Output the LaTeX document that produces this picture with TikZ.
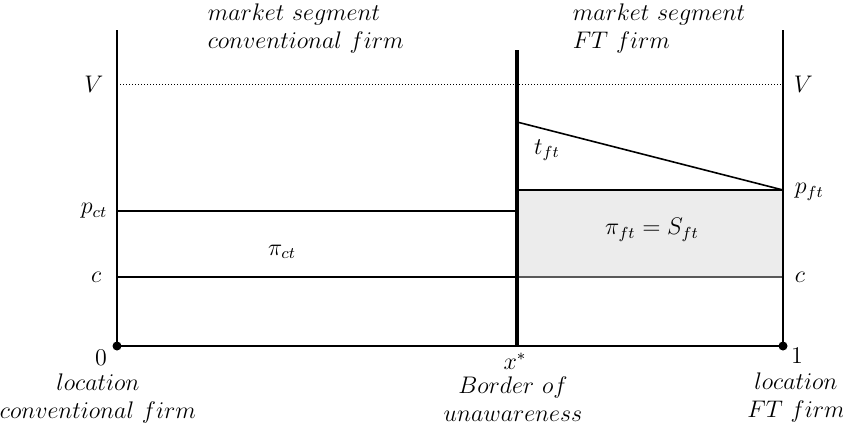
\documentclass[tikz,border=0pt]{standalone}
\usetikzlibrary{positioning}
\usepackage{amsmath}
\begin{document}
\begin{tikzpicture}[x=0.5pt,y=-0.5pt,thick,
        axis/.style={line width=1.1pt},
        level/.style={line width=0.8pt},
        lbl/.style={font=\large,inner sep=1pt}]
        \useasboundingbox (0,0) rectangle (843,429);
        % corner points
        \coordinate (o) at (117,346);
        \coordinate (ot) at (117,30);
        \coordinate (x) at (517,346);
        \coordinate (xt) at (517,50);
        \coordinate (e) at (783,346);
        \coordinate (et) at (783,30);
        \coordinate (vl) at (117,84);
        \coordinate (vr) at (783,84);
        \coordinate (pl) at (117,211);
        \coordinate (pm) at (517,211);
        \coordinate (cl) at (117,277);
        \coordinate (cm) at (517,277);
        \coordinate (cr) at (783,277);
        \coordinate (fm) at (517,190);
        \coordinate (fr) at (783,190);
        \coordinate (tm) at (517,122);
        % shaded surplus
        \fill[gray!15] (fm) rectangle (cr);
        \draw[level,gray!70!black] (cm) -- (cr);
        \draw[level] (fm) -- (fr);
        \draw[level] (tm) -- (fr);
        \draw[level] (pl) -- (pm);
        \draw[level] (cl) -- (cm);
        \draw[densely dotted,line width=0.5pt] (vl) -- (vr);
        % axes
        \draw[axis] (ot) -- (o) -- (e) -- (et);
        \draw[line width=1.9pt] (xt) -- (x);
        \fill (o) circle (4.5);
        \fill (e) circle (4.5);
        % labels
        \node[lbl,anchor=east] (vlab) at (106,84) {$V$};
        \node[lbl,anchor=west] (vrab) at (791,84) {$V$};
        \node[lbl,anchor=east] (plab) at (110,211) {$p_{ct}$};
        \node[lbl,anchor=east] (clab) at (104,277) {$c$};
        \node[lbl,anchor=west] (frab) at (792,192) {$p_{ft}$};
        \node[lbl,anchor=west] (crab) at (792,277) {$c$};
        \node[lbl] (pict) at (282,252) {$\pi_{ct}$};
        \node[lbl] (tft) at (547,150) {$t_{ft}$};
        \node[lbl] (pift) at (652,230) {$\pi_{ft}=S_{ft}$};
        \node[lbl] (zero) at (101,358) {$0$};
        \node[lbl] (xs) at (515,361) {$x^{*}$};
        \node[lbl] (one) at (797,356) {$1$};
        \node[lbl,align=center] (locc) at (98,398) {$location$\\$conventional\ firm$};
        \node[lbl,align=center] (bord) at (513,399) {$Border\ of$\\$unawareness$};
        \node[lbl,align=center] (locf) at (796,397) {$location$\\$FT\ firm$};
        \node[lbl,align=left,anchor=west] (segc) at (205,28) {$market\ segment$\\$conventional\ firm$};
        \node[lbl,align=left,anchor=west] (segf) at (570,28) {$market\ segment$\\$FT\ firm$};
    \end{tikzpicture}
\end{document}
